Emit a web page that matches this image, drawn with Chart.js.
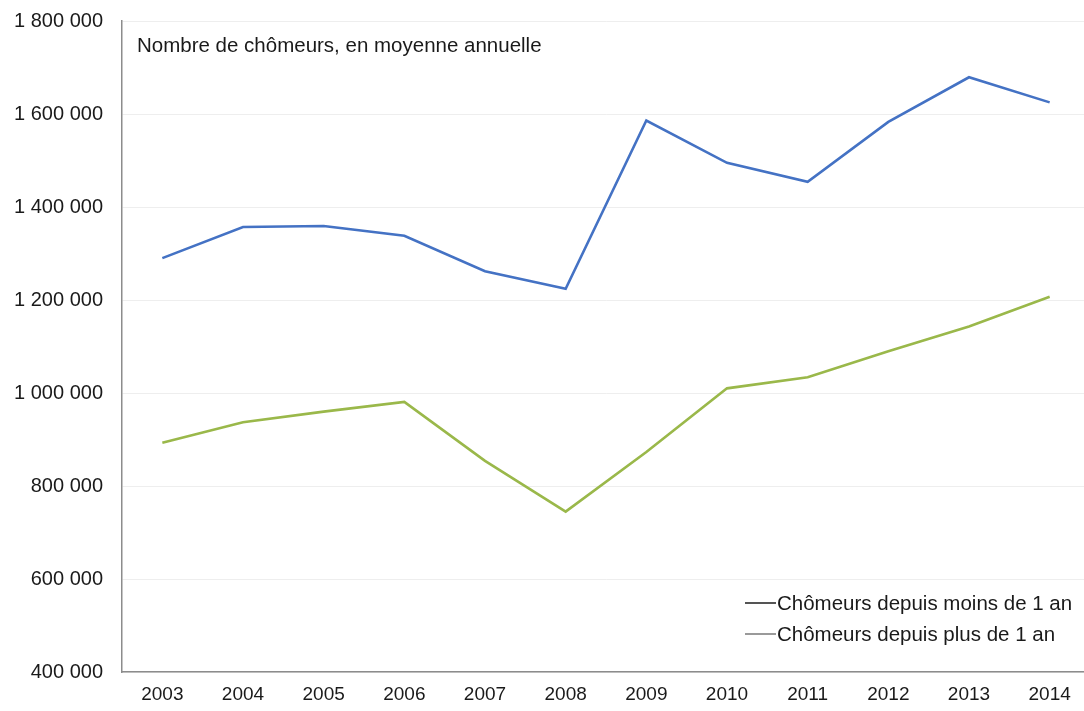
<!DOCTYPE html>
<html>
<head>
<meta charset="utf-8">
<script src="https://cdn.jsdelivr.net/npm/chart.js@4/dist/chart.umd.min.js"></script>
<style>
  html, body { margin: 0; padding: 0; background: #fff; overflow: hidden; }
  #wrap { width: 1100px; height: 711px; position: relative; }
</style>
</head>
<body>
<div id="wrap"><canvas id="c" width="1100" height="711"></canvas></div>
<script>
const years = ['2003','2004','2005','2006','2007','2008','2009','2010','2011','2012','2013','2014'];
const moinsUnAn = [1290000, 1357000, 1359000, 1338000, 1262000, 1224000, 1586000, 1495000, 1454000, 1583000, 1679000, 1625000];
const plusUnAn = [893000, 937000, 960000, 981000, 854000, 745000, 873000, 1010000, 1034000, 1090000, 1143000, 1207000];
const seriesLabels = ['Chômeurs depuis moins de 1 an', 'Chômeurs depuis plus de 1 an'];
const legendSwatch = ['#555555', '#9a9a9a'];
const chartTitle = 'Nombre de chômeurs, en moyenne annuelle';
const yMin = 400000, yMax = 1800000, yStep = 200000;

const FONT = '"Liberation Sans", Arial, sans-serif';

function fmt(v) {
  return String(v).replace(/\B(?=(\d{3})+(?!\d))/g, ' ');
}

const overlay = {
  id: 'overlay',
  afterDraw(chart) {
    const ctx = chart.ctx;
    const a = chart.chartArea;
    ctx.save();
    ctx.font = '20.5px ' + FONT;
    ctx.fillStyle = '#1a1a1a';
    ctx.textBaseline = 'middle';
    ctx.textAlign = 'left';
    ctx.fillText(chartTitle, a.left + 15, 46);
    // legend
    const ds = chart.data.datasets;
    const x0 = 745, lineLen = 31;
    ds.forEach((d, i) => {
      const y = 603 + i * 31;
      ctx.strokeStyle = legendSwatch[i];
      ctx.lineWidth = 2;
      ctx.beginPath();
      ctx.moveTo(x0, y);
      ctx.lineTo(x0 + lineLen, y);
      ctx.stroke();
      ctx.fillStyle = '#1a1a1a';
      ctx.fillText(d.label, x0 + lineLen + 1, y + 1);
    });
    ctx.restore();
  }
};

new Chart(document.getElementById('c'), {
  type: 'line',
  data: {
    labels: years,
    datasets: [
      { label: seriesLabels[0], data: moinsUnAn, borderColor: '#4472c4', borderWidth: 2.6, pointRadius: 0, tension: 0, fill: false },
      { label: seriesLabels[1], data: plusUnAn, borderColor: '#9ab84a', borderWidth: 2.6, pointRadius: 0, tension: 0, fill: false }
    ]
  },
  options: {
    responsive: false,
    animation: false,
    events: [],
    layout: { padding: { left: 0, right: 10, top: 21, bottom: 0 } },
    plugins: { legend: { display: false }, tooltip: { enabled: false }, title: { display: false } },
    scales: {
      x: {
        offset: true,
        grid: { display: false, drawTicks: false },
        border: { display: true, color: '#8c8c8c', width: 1.5 },
        ticks: { color: '#1a1a1a', font: { family: FONT, size: 19 }, padding: 11, maxRotation: 0, autoSkip: false },
        afterFit(s) { s.height = 39; s.paddingLeft = 0; s.paddingRight = 0; }
      },
      y: {
        min: yMin, max: yMax,
        grid: { color: '#eeeeee', lineWidth: 1, drawTicks: false },
        border: { display: true, color: '#8c8c8c', width: 1.5 },
        ticks: { stepSize: yStep, color: '#1a1a1a', font: { family: FONT, size: 20 }, padding: 19, callback: v => fmt(v) },
        afterFit(s) { s.width = 122; s.paddingTop = 0; s.paddingBottom = 0; }
      }
    }
  },
  plugins: [overlay]
});
</script>
</body>
</html>
